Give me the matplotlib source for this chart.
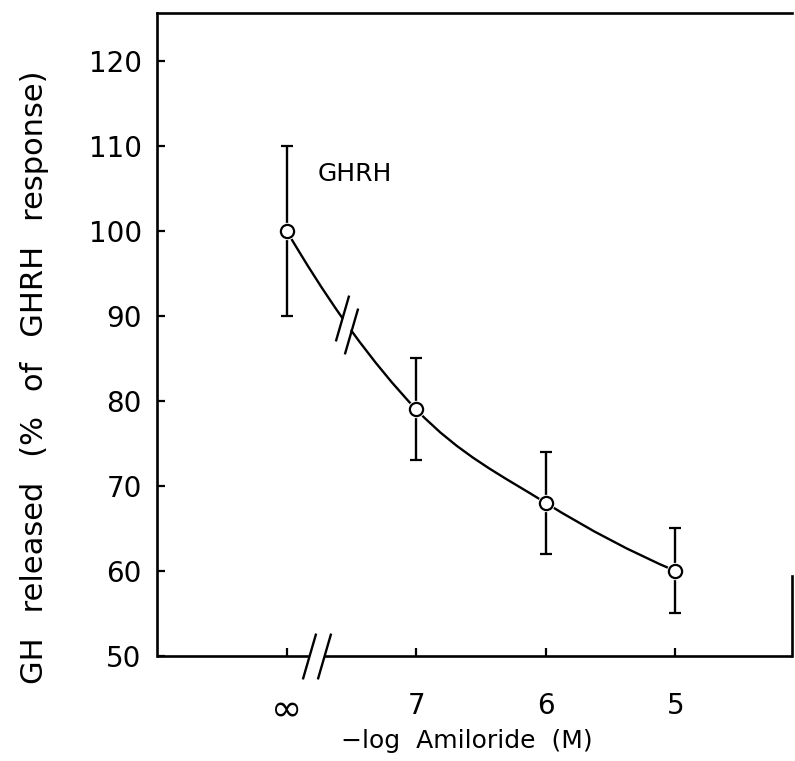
import numpy as np
import matplotlib
matplotlib.use("Agg")
import matplotlib.pyplot as plt
from matplotlib.path import Path
from matplotlib.patches import PathPatch

# Amiloride concentration (-log M); "∞" = GHRH alone, no amiloride
concentration_labels = ["∞", "7", "6", "5"]
gh_released = [100, 79, 68, 60]        # % of GHRH response
gh_sem = [10, 6, 6, 5]
y_ticks = [50, 60, 70, 80, 90, 100, 110, 120]

plt.rcParams["font.family"] = ["DejaVu Sans"]

fig = plt.figure(figsize=(7.95, 7.61), dpi=100)
ax = fig.add_axes([157 / 795, 1 - 656 / 761, (792 - 157) / 795, (656 - 13) / 761])

x = np.arange(len(gh_released), dtype=float)
y = np.asarray(gh_released, dtype=float)
ax.set_xlim(-1, 3.9)
ax.set_ylim(50, 125.6)


# smooth hand-drawn style curve through the means (cubic Bezier per segment)
def tangents(xs, ys):
    m = np.empty_like(ys)
    m[1:-1] = (ys[2:] - ys[:-2]) / (xs[2:] - xs[:-2])
    m[0] = 2 * (ys[1] - ys[0]) / (xs[1] - xs[0]) - m[1]
    m[-1] = 2 * (ys[-1] - ys[-2]) / (xs[-1] - xs[-2]) - m[-2]
    return m


def segment(i, m):
    h = x[i + 1] - x[i]
    p0 = np.array([x[i], y[i]])
    p3 = np.array([x[i + 1], y[i + 1]])
    c1 = p0 + np.array([h / 3, m[i] * h / 3])
    c2 = p3 - np.array([h / 3, m[i + 1] * h / 3])
    return [p0, c1, c2, p3]


def split(seg, t):
    p0, p1, p2, p3 = seg
    a = p0 + (p1 - p0) * t
    b = p1 + (p2 - p1) * t
    c = p2 + (p3 - p2) * t
    d = a + (b - a) * t
    e = b + (c - b) * t
    f = d + (e - d) * t
    return [p0, a, d, f], [f, e, c, p3]


def draw_bezier(segs):
    verts, codes = [], []
    for s in segs:
        if not verts:
            verts.append(s[0]); codes.append(Path.MOVETO)
        verts.extend(s[1:]); codes.extend([Path.CURVE4] * 3)
    ax.add_patch(PathPatch(Path(verts, codes), fill=False, lw=1.7,
                           edgecolor="black", zorder=2, capstyle="round"))


m = tangents(x, y)
segs = [segment(i, m) for i in range(len(x) - 1)]

# break the first segment between ∞ and 7
t_a, t_b = 0.43, 0.50
left, rest = split(segs[0], t_a)
_, right = split(rest, (t_b - t_a) / (1 - t_a))
draw_bezier([left])
draw_bezier([right] + segs[1:])

slash = Path([(-0.29, -1.0), (0.29, 1.0)], [Path.MOVETO, Path.LINETO])
for pt in (left[-1], right[0]):
    ax.plot([pt[0]], [pt[1]], marker=slash, markersize=33, mew=1.7,
            color="black", zorder=4)

# error bars and open circles
ax.errorbar(x, y, yerr=gh_sem, fmt="none", ecolor="black", elinewidth=1.7,
            capsize=4, capthick=1.6, zorder=2)
ax.plot(x, y, "o", ms=12.5, mfc="white", mec="white", mew=0, zorder=3)
ax.plot(x, y, "o", ms=9.5, mfc="white", mec="black", mew=1.6, zorder=3)

ax.text(0.24, 106.7, "GHRH", fontsize=18, ha="left", va="center")

# axes frame: broken x axis, short right edge
for side in ("bottom", "right"):
    ax.spines[side].set_visible(False)
for side in ("top", "left"):
    ax.spines[side].set_linewidth(1.9)

xt = ax.get_xaxis_transform()
ax.plot([-1, 0.17], [0, 0], transform=xt, color="black", lw=1.9,
        clip_on=False, solid_capstyle="butt")
ax.plot([0.29, 3.9], [0, 0], transform=xt, color="black", lw=1.9,
        clip_on=False, solid_capstyle="butt")
for bx in (0.17, 0.29):
    ax.plot([bx], [0], transform=xt, marker=slash, markersize=33, mew=1.7,
            color="black", clip_on=False, zorder=4)
ax.plot([1, 1], [0, 0.125], transform=ax.transAxes, color="black", lw=1.9,
        clip_on=False)

ax.set_xticks(x)
ax.set_xticklabels(concentration_labels)
ax.set_yticks(y_ticks)
ax.tick_params(direction="in", length=6, width=1.6, labelsize=20)
ax.tick_params(axis="x", pad=26)
ax.tick_params(axis="y", pad=11)
ax.get_xticklabels()[0].set_fontsize(27)

ax.set_xlabel("−log  Amiloride  (M)", fontsize=18)
ax.xaxis.set_label_coords(0.488, -0.1135)
gap = " \u2002"
ax.set_ylabel(gap.join(["GH", "released", "(%", "of", "GHRH", "response)"]),
              fontsize=22)
ax.yaxis.set_label_coords(-0.17, 0.434)

fig.savefig("out.png", dpi=100)
